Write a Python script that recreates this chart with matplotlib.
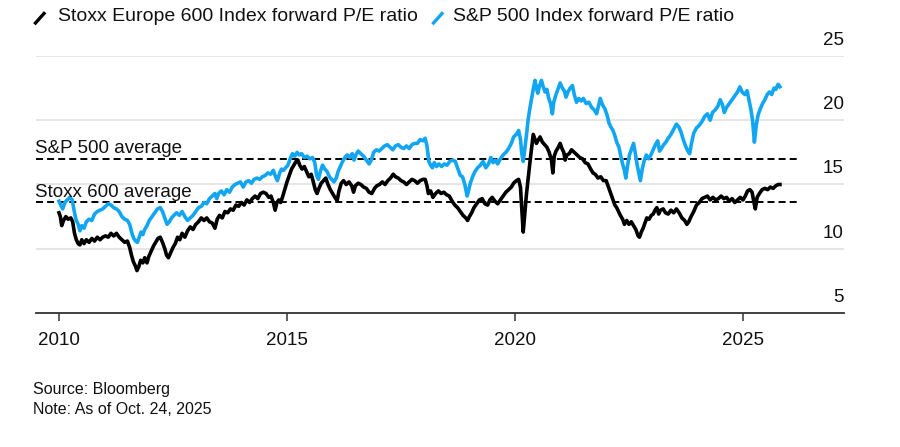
import matplotlib
matplotlib.use("Agg")
import matplotlib.pyplot as plt
from matplotlib.lines import Line2D
import numpy as np

plt.rcParams['font.family'] = ['Liberation Sans', 'DejaVu Sans']

# ---------------- data (decimal years, forward P/E) ----------------
stoxx_t = [2010.00, 2010.03, 2010.06, 2010.10, 2010.15, 2010.20, 2010.26, 2010.30, 2010.34, 2010.38,
           2010.42, 2010.46, 2010.50, 2010.55, 2010.60, 2010.66, 2010.72, 2010.78, 2010.84, 2010.90,
           2010.96, 2011.02, 2011.08, 2011.14, 2011.20, 2011.26, 2011.32, 2011.38, 2011.44, 2011.50,
           2011.55, 2011.59, 2011.63, 2011.67, 2011.71, 2011.75, 2011.79, 2011.84, 2011.88, 2011.93,
           2011.97, 2012.02, 2012.07, 2012.12, 2012.17, 2012.22, 2012.27, 2012.32, 2012.36, 2012.40,
           2012.45, 2012.50, 2012.55, 2012.60, 2012.65, 2012.70, 2012.76, 2012.82, 2012.88, 2012.94,
           2013.00, 2013.06, 2013.12, 2013.18, 2013.24, 2013.30, 2013.36, 2013.42, 2013.47, 2013.52,
           2013.58, 2013.64, 2013.70, 2013.76, 2013.82, 2013.88, 2013.94, 2014.00, 2014.06, 2014.12,
           2014.18, 2014.24, 2014.30, 2014.36, 2014.42, 2014.48, 2014.54, 2014.60, 2014.65, 2014.70,
           2014.74, 2014.78, 2014.82, 2014.86, 2014.90, 2014.95, 2015.00, 2015.05, 2015.10, 2015.15,
           2015.20, 2015.24, 2015.28, 2015.33, 2015.38, 2015.43, 2015.48, 2015.53, 2015.57, 2015.62,
           2015.66, 2015.70, 2015.75, 2015.80, 2015.85, 2015.90, 2015.95, 2016.00, 2016.05, 2016.10,
           2016.14, 2016.19, 2016.24, 2016.30, 2016.36, 2016.42, 2016.46, 2016.50, 2016.56, 2016.62,
           2016.68, 2016.74, 2016.80, 2016.86, 2016.92, 2016.97, 2017.03, 2017.09, 2017.15, 2017.21,
           2017.27, 2017.33, 2017.38, 2017.44, 2017.50, 2017.56, 2017.62, 2017.68, 2017.74, 2017.80,
           2017.86, 2017.92, 2017.98, 2018.03, 2018.07, 2018.10, 2018.15, 2018.20, 2018.26, 2018.32,
           2018.38, 2018.44, 2018.50, 2018.56, 2018.62, 2018.68, 2018.74, 2018.80, 2018.86, 2018.92,
           2018.96, 2019.00, 2019.05, 2019.10, 2019.16, 2019.22, 2019.28, 2019.34, 2019.40, 2019.45,
           2019.50, 2019.56, 2019.62, 2019.68, 2019.74, 2019.80, 2019.86, 2019.92, 2019.97, 2020.03,
           2020.08, 2020.12, 2020.15, 2020.18, 2020.21, 2020.25, 2020.29, 2020.33, 2020.37, 2020.40,
           2020.43, 2020.47, 2020.50, 2020.55, 2020.60, 2020.65, 2020.70, 2020.75, 2020.80, 2020.83,
           2020.86, 2020.90, 2020.95, 2020.99, 2021.03, 2021.07, 2021.10, 2021.14, 2021.19, 2021.24,
           2021.30, 2021.36, 2021.42, 2021.48, 2021.54, 2021.60, 2021.66, 2021.71, 2021.76, 2021.82,
           2021.88, 2021.94, 2022.00, 2022.05, 2022.10, 2022.15, 2022.19, 2022.23, 2022.27, 2022.31,
           2022.36, 2022.40, 2022.45, 2022.50, 2022.55, 2022.60, 2022.65, 2022.70, 2022.73, 2022.77,
           2022.81, 2022.85, 2022.89, 2022.94, 2022.99, 2023.03, 2023.07, 2023.11, 2023.15, 2023.19,
           2023.25, 2023.30, 2023.36, 2023.42, 2023.48, 2023.54, 2023.60, 2023.66, 2023.72, 2023.77,
           2023.81, 2023.86, 2023.92, 2023.98, 2024.04, 2024.10, 2024.16, 2024.22, 2024.28, 2024.34,
           2024.40, 2024.46, 2024.52, 2024.58, 2024.64, 2024.70, 2024.76, 2024.82, 2024.88, 2024.94,
           2025.00, 2025.05, 2025.10, 2025.15, 2025.20, 2025.24, 2025.27, 2025.31, 2025.36, 2025.42,
           2025.48, 2025.54, 2025.60, 2025.66, 2025.72, 2025.77, 2025.81]
stoxx_pe = [12.8, 12.5, 11.8, 12.2, 12.5, 12.3, 12.4, 12.1, 11.2, 10.7,
            10.4, 10.3, 10.7, 10.4, 10.7, 10.5, 10.8, 10.6, 10.9, 10.7,
            10.9, 11.0, 10.9, 11.2, 11.0, 11.2, 10.9, 10.7, 10.5, 10.6,
            10.1, 9.5, 9.0, 8.7, 8.3, 8.6, 9.1, 8.9, 9.3, 8.9,
            9.4, 9.8, 10.2, 10.5, 10.8, 10.9, 10.5, 10.0, 9.5, 9.3,
            9.7, 10.1, 10.4, 10.9, 10.7, 11.2, 10.9, 11.4, 11.7, 11.5,
            11.9, 12.1, 12.4, 12.2, 12.4, 12.1, 12.0, 11.6, 12.3, 12.6,
            12.4, 12.9, 12.8, 13.1, 13.0, 13.4, 13.3, 13.6, 13.4, 13.8,
            13.6, 13.9, 14.1, 13.9, 14.3, 14.4, 14.3, 14.0, 14.1, 13.6,
            13.0, 13.6, 13.8, 13.6, 14.0, 14.6, 15.2, 15.7, 16.2, 16.5,
            16.8, 16.9, 16.5, 16.2, 16.4, 16.0, 15.6, 15.8, 15.3, 14.6,
            14.3, 14.7, 15.1, 15.3, 15.5, 15.0, 14.6, 14.3, 14.0, 13.75,
            14.5, 15.1, 15.3, 15.0, 15.2, 14.9, 14.4, 14.9, 15.1, 15.0,
            14.8, 14.7, 14.4, 14.3, 14.7, 14.9, 15.0, 15.2, 15.0, 15.3,
            15.5, 15.8, 15.6, 15.5, 15.3, 15.2, 15.0, 15.2, 15.4, 15.3,
            15.1, 15.3, 15.4, 15.4, 14.9, 14.3, 14.5, 14.0, 14.3, 14.5,
            14.3, 14.4, 14.2, 14.1, 13.7, 13.4, 13.2, 12.9, 12.6, 12.4,
            12.2, 12.5, 12.8, 13.2, 13.5, 13.8, 13.9, 13.5, 13.4, 13.8,
            14.0, 13.7, 13.5, 13.8, 14.1, 14.4, 14.6, 14.8, 15.1, 15.3,
            15.4, 14.8, 13.0, 11.3, 12.5, 14.2, 15.5, 16.8, 18.0, 18.9,
            18.6, 18.2, 18.4, 18.7, 18.3, 18.1, 17.9, 17.5, 16.9, 15.9,
            17.2, 17.6, 17.9, 18.2, 17.8, 17.5, 16.9, 17.3, 17.4, 17.7,
            17.5, 17.3, 17.1, 17.0, 16.7, 16.6, 16.2, 15.9, 15.8, 15.5,
            15.6, 15.3, 15.3, 14.8, 14.3, 13.8, 13.4, 13.2, 12.9, 12.6,
            12.3, 11.9, 12.2, 11.9, 12.1, 11.8, 11.5, 11.0, 10.9, 11.3,
            11.6, 12.0, 12.4, 12.3, 12.6, 12.7, 13.0, 13.2, 12.7, 13.0,
            13.1, 12.8, 12.7, 13.0, 12.8, 13.1, 12.8, 12.4, 12.2, 11.9,
            12.1, 12.5, 12.9, 13.4, 13.6, 13.9, 14.0, 14.1, 13.8, 14.0,
            13.8, 13.9, 14.1, 13.9, 14.0, 13.7, 13.9, 13.6, 13.8, 14.0,
            13.8, 14.1, 14.5, 14.6, 14.4, 13.6, 13.1, 14.0, 14.3, 14.6,
            14.7, 14.6, 14.8, 14.7, 14.9, 15.0, 15.0]

spx_t = [2010.00, 2010.04, 2010.08, 2010.13, 2010.18, 2010.24, 2010.29, 2010.33, 2010.37, 2010.42,
         2010.46, 2010.50, 2010.55, 2010.60, 2010.66, 2010.72, 2010.78, 2010.84, 2010.90, 2010.96,
         2011.02, 2011.08, 2011.14, 2011.20, 2011.26, 2011.32, 2011.38, 2011.44, 2011.50, 2011.55,
         2011.60, 2011.64, 2011.68, 2011.72, 2011.76, 2011.80, 2011.84, 2011.88, 2011.93, 2011.98,
         2012.04, 2012.10, 2012.16, 2012.22, 2012.27, 2012.32, 2012.37, 2012.42, 2012.47, 2012.52,
         2012.58, 2012.64, 2012.70, 2012.76, 2012.82, 2012.88, 2012.94, 2013.00, 2013.06, 2013.12,
         2013.18, 2013.24, 2013.30, 2013.36, 2013.42, 2013.46, 2013.50, 2013.56, 2013.62, 2013.68,
         2013.74, 2013.80, 2013.86, 2013.92, 2013.98, 2014.04, 2014.10, 2014.16, 2014.22, 2014.28,
         2014.34, 2014.40, 2014.46, 2014.52, 2014.58, 2014.64, 2014.70, 2014.75, 2014.79, 2014.84,
         2014.88, 2014.92, 2014.97, 2015.02, 2015.07, 2015.12, 2015.17, 2015.22, 2015.27, 2015.32,
         2015.38, 2015.44, 2015.50, 2015.56, 2015.61, 2015.65, 2015.69, 2015.73, 2015.78, 2015.83,
         2015.88, 2015.93, 2015.98, 2016.03, 2016.08, 2016.12, 2016.17, 2016.22, 2016.27, 2016.32,
         2016.38, 2016.43, 2016.47, 2016.51, 2016.56, 2016.62, 2016.68, 2016.74, 2016.80, 2016.85,
         2016.90, 2016.96, 2017.02, 2017.08, 2017.14, 2017.20, 2017.26, 2017.32, 2017.38, 2017.44,
         2017.50, 2017.56, 2017.62, 2017.68, 2017.74, 2017.80, 2017.86, 2017.92, 2017.98, 2018.03,
         2018.07, 2018.11, 2018.15, 2018.19, 2018.23, 2018.28, 2018.33, 2018.39, 2018.45, 2018.51,
         2018.57, 2018.63, 2018.69, 2018.75, 2018.80, 2018.85, 2018.90, 2018.95, 2018.98, 2019.02,
         2019.07, 2019.12, 2019.18, 2019.24, 2019.30, 2019.36, 2019.42, 2019.47, 2019.52, 2019.57,
         2019.62, 2019.68, 2019.74, 2019.80, 2019.86, 2019.92, 2019.97, 2020.03, 2020.08, 2020.12,
         2020.15, 2020.18, 2020.21, 2020.25, 2020.29, 2020.33, 2020.37, 2020.41, 2020.44, 2020.47,
         2020.50, 2020.54, 2020.58, 2020.62, 2020.66, 2020.70, 2020.74, 2020.78, 2020.82, 2020.85,
         2020.89, 2020.94, 2020.99, 2021.04, 2021.08, 2021.12, 2021.16, 2021.21, 2021.26, 2021.30,
         2021.35, 2021.40, 2021.45, 2021.50, 2021.56, 2021.62, 2021.68, 2021.74, 2021.79, 2021.83,
         2021.87, 2021.92, 2021.97, 2022.02, 2022.06, 2022.10, 2022.15, 2022.19, 2022.23, 2022.28,
         2022.32, 2022.36, 2022.40, 2022.43, 2022.47, 2022.51, 2022.56, 2022.60, 2022.64, 2022.68,
         2022.72, 2022.75, 2022.79, 2022.83, 2022.88, 2022.93, 2022.98, 2023.03, 2023.08, 2023.13,
         2023.17, 2023.21, 2023.26, 2023.31, 2023.36, 2023.42, 2023.48, 2023.54, 2023.59, 2023.64,
         2023.69, 2023.74, 2023.79, 2023.83, 2023.87, 2023.92, 2023.98, 2024.04, 2024.10, 2024.16,
         2024.22, 2024.28, 2024.33, 2024.39, 2024.45, 2024.50, 2024.55, 2024.59, 2024.64, 2024.70,
         2024.76, 2024.82, 2024.88, 2024.93, 2024.98, 2025.04, 2025.09, 2025.13, 2025.17, 2025.21,
         2025.25, 2025.29, 2025.33, 2025.38, 2025.43, 2025.48, 2025.53, 2025.58, 2025.63, 2025.68,
         2025.72, 2025.77, 2025.81]
spx_pe = [13.7, 13.4, 13.1, 13.6, 13.8, 14.0, 13.8, 13.0, 12.3, 11.9,
          11.4, 11.8, 11.6, 12.1, 12.3, 12.2, 12.7, 12.9, 13.0, 13.1,
          13.3, 13.5, 13.4, 13.2, 13.1, 12.9, 12.5, 12.3, 12.2, 11.9,
          11.2, 10.8, 10.6, 10.5, 10.9, 11.3, 11.1, 11.5, 11.8, 12.2,
          12.5, 12.8, 13.1, 13.2, 12.9, 12.4, 11.9, 12.1, 12.4, 12.6,
          12.8, 12.6, 12.9, 12.5, 12.2, 12.4, 12.6, 12.9, 13.2, 13.3,
          13.6, 13.5, 13.9, 14.1, 14.3, 13.9, 14.3, 14.5, 14.2, 14.6,
          14.4, 14.8, 15.0, 15.1, 15.2, 14.8, 15.2, 15.3, 15.1, 15.4,
          15.5, 15.4, 15.6, 15.7, 15.9, 15.8, 16.1, 15.6, 15.3, 15.9,
          16.2, 16.1, 16.3, 16.5, 17.0, 17.4, 17.2, 17.5, 17.3, 17.4,
          17.1, 17.2, 17.0, 17.1, 16.7, 15.7, 15.4, 16.0, 16.5, 16.2,
          16.0, 15.6, 15.4, 15.2, 15.5, 16.0, 16.4, 16.8, 17.1, 17.3,
          17.1, 17.4, 16.9, 17.3, 17.6, 17.4, 17.2, 16.9, 16.6, 16.9,
          17.5, 17.7, 17.6, 17.8, 18.0, 18.1, 17.9, 17.7, 18.0, 18.1,
          17.9, 17.8, 18.0, 17.8, 18.1, 18.2, 18.2, 18.5, 18.4, 18.6,
          18.0, 16.8, 16.5, 16.3, 16.7, 16.4, 16.6, 16.4, 16.6, 16.5,
          16.8, 16.9, 16.8, 16.2, 15.7, 15.6, 15.0, 14.1, 14.5, 15.1,
          15.6, 16.0, 16.3, 16.5, 16.8, 16.3, 16.6, 17.1, 16.7, 16.9,
          16.6, 17.0, 17.3, 17.5, 17.8, 18.2, 18.7, 18.9, 19.2, 18.5,
          17.4, 16.8, 17.6, 18.8, 20.1, 21.0, 21.8, 22.6, 23.1, 22.5,
          22.1, 22.7, 23.1, 22.6, 22.2, 22.4, 21.7, 21.3, 20.5, 21.4,
          21.9, 22.4, 22.9, 22.5, 22.3, 21.8, 22.2, 22.5, 22.7, 22.0,
          21.4, 21.7, 21.5, 21.7, 21.3, 21.4, 21.0, 20.8, 20.5, 21.1,
          21.7, 21.2, 20.9, 20.4, 19.8, 19.5, 19.2, 18.8, 18.3, 17.9,
          17.2, 16.6, 16.1, 15.5, 16.5, 17.3, 17.8, 18.2, 17.4, 16.5,
          15.8, 15.3, 16.2, 16.8, 17.3, 17.0, 17.3, 17.7, 18.1, 18.4,
          17.6, 17.8, 18.1, 18.3, 18.6, 18.9, 19.3, 19.7, 19.5, 19.1,
          18.5, 18.0, 17.6, 17.4, 18.2, 19.0, 19.4, 19.6, 19.9, 20.3,
          20.5, 20.0, 20.6, 20.8, 21.1, 21.6, 21.2, 20.6, 21.0, 21.3,
          21.6, 21.9, 22.2, 22.6, 22.2, 22.0, 22.3, 21.6, 20.9, 20.0,
          18.3, 19.6, 20.4, 20.9, 21.3, 21.6, 22.0, 22.2, 22.0, 22.5,
          22.4, 22.8, 22.6]

spx_avg = 17.0
stoxx_avg = 13.6
x_ticks = [2010, 2015, 2020, 2025]
y_ticks = [5, 10, 15, 20, 25]
legend_labels = ["Stoxx Europe 600 Index forward P/E ratio", "S&P 500 Index forward P/E ratio"]
avg_labels = ["S&P 500 average", "Stoxx 600 average"]
source_lines = ["Source: Bloomberg", "Note: As of Oct. 24, 2025"]

BLUE = '#12a6f2'
BLACK = '#000000'
W, H = 900, 447

def fx(x):
    return x / W

def fy(y):
    return 1 - y / H

fig = plt.figure(figsize=(9, 4.47), dpi=100)
ax = fig.add_axes([fx(36), fy(313), fx(844) - fx(36), fy(56) - fy(313)])

x0, x1 = 2009.496, 2027.215
ax.set_xlim(x0, x1)
ax.set_ylim(5, 25)

# gridlines
for v in y_ticks[1:]:
    ax.axhline(v, color='#e6e6e6', lw=1.5, zorder=0)

# average dashed lines
for v in (spx_avg, stoxx_avg):
    ax.plot([x0, 2026.21], [v, v], color='black', lw=1.4, dashes=(3.6, 2.1), zorder=2,
            solid_capstyle='butt', dash_capstyle='butt')

ax.plot(spx_t, spx_pe, color=BLUE, lw=2.6, zorder=3, solid_joinstyle='round')
ax.plot(stoxx_t, stoxx_pe, color=BLACK, lw=2.6, zorder=4, solid_joinstyle='round')

for s in ['top', 'right', 'left']:
    ax.spines[s].set_visible(False)
ax.spines['bottom'].set_color('#333333')
ax.spines['bottom'].set_linewidth(1.3)

ax.set_xticks(x_ticks)
ax.set_xticklabels([str(t) for t in x_ticks], fontsize=13.5, color='#111111')
ax.tick_params(axis='x', direction='out', length=6, width=1.1, color='#333333', pad=8)
ax.set_yticks([])

# right-side y labels above gridlines
for v in y_ticks:
    ax.annotate(str(v), xy=(1.0, v), xycoords=('axes fraction', 'data'),
                xytext=(0, 8), textcoords='offset points', ha='right', va='baseline',
                fontsize=13.5, color='#111111')

# average labels
ax.annotate(avg_labels[0], xy=(0, spx_avg), xycoords=('axes fraction', 'data'),
            xytext=(-0.5, 4.3), textcoords='offset points', ha='left', va='baseline',
            fontsize=13.5, color='#111111')
ax.annotate(avg_labels[1], xy=(0, stoxx_avg), xycoords=('axes fraction', 'data'),
            xytext=(-0.5, 4.3), textcoords='offset points', ha='left', va='baseline',
            fontsize=13.5, color='#111111')

# legend
fig.add_artist(Line2D([fx(35.5), fx(44)], [fy(23), fy(13.5)], color=BLACK, lw=2.4,
                      transform=fig.transFigure))
fig.text(fx(58), fy(21), legend_labels[0], fontsize=14, color='#111111', va='baseline', ha='left')
fig.add_artist(Line2D([fx(433.5), fx(442)], [fy(23), fy(13.5)], color=BLUE, lw=2.4,
                      transform=fig.transFigure))
fig.text(fx(453), fy(21), legend_labels[1], fontsize=14, color='#111111', va='baseline', ha='left')

# source
fig.text(fx(33), fy(394), source_lines[0], fontsize=11.5, color='#111111', va='baseline', ha='left')
fig.text(fx(33), fy(414), source_lines[1], fontsize=11.5, color='#111111', va='baseline', ha='left')

fig.savefig('out.png', dpi=100)
